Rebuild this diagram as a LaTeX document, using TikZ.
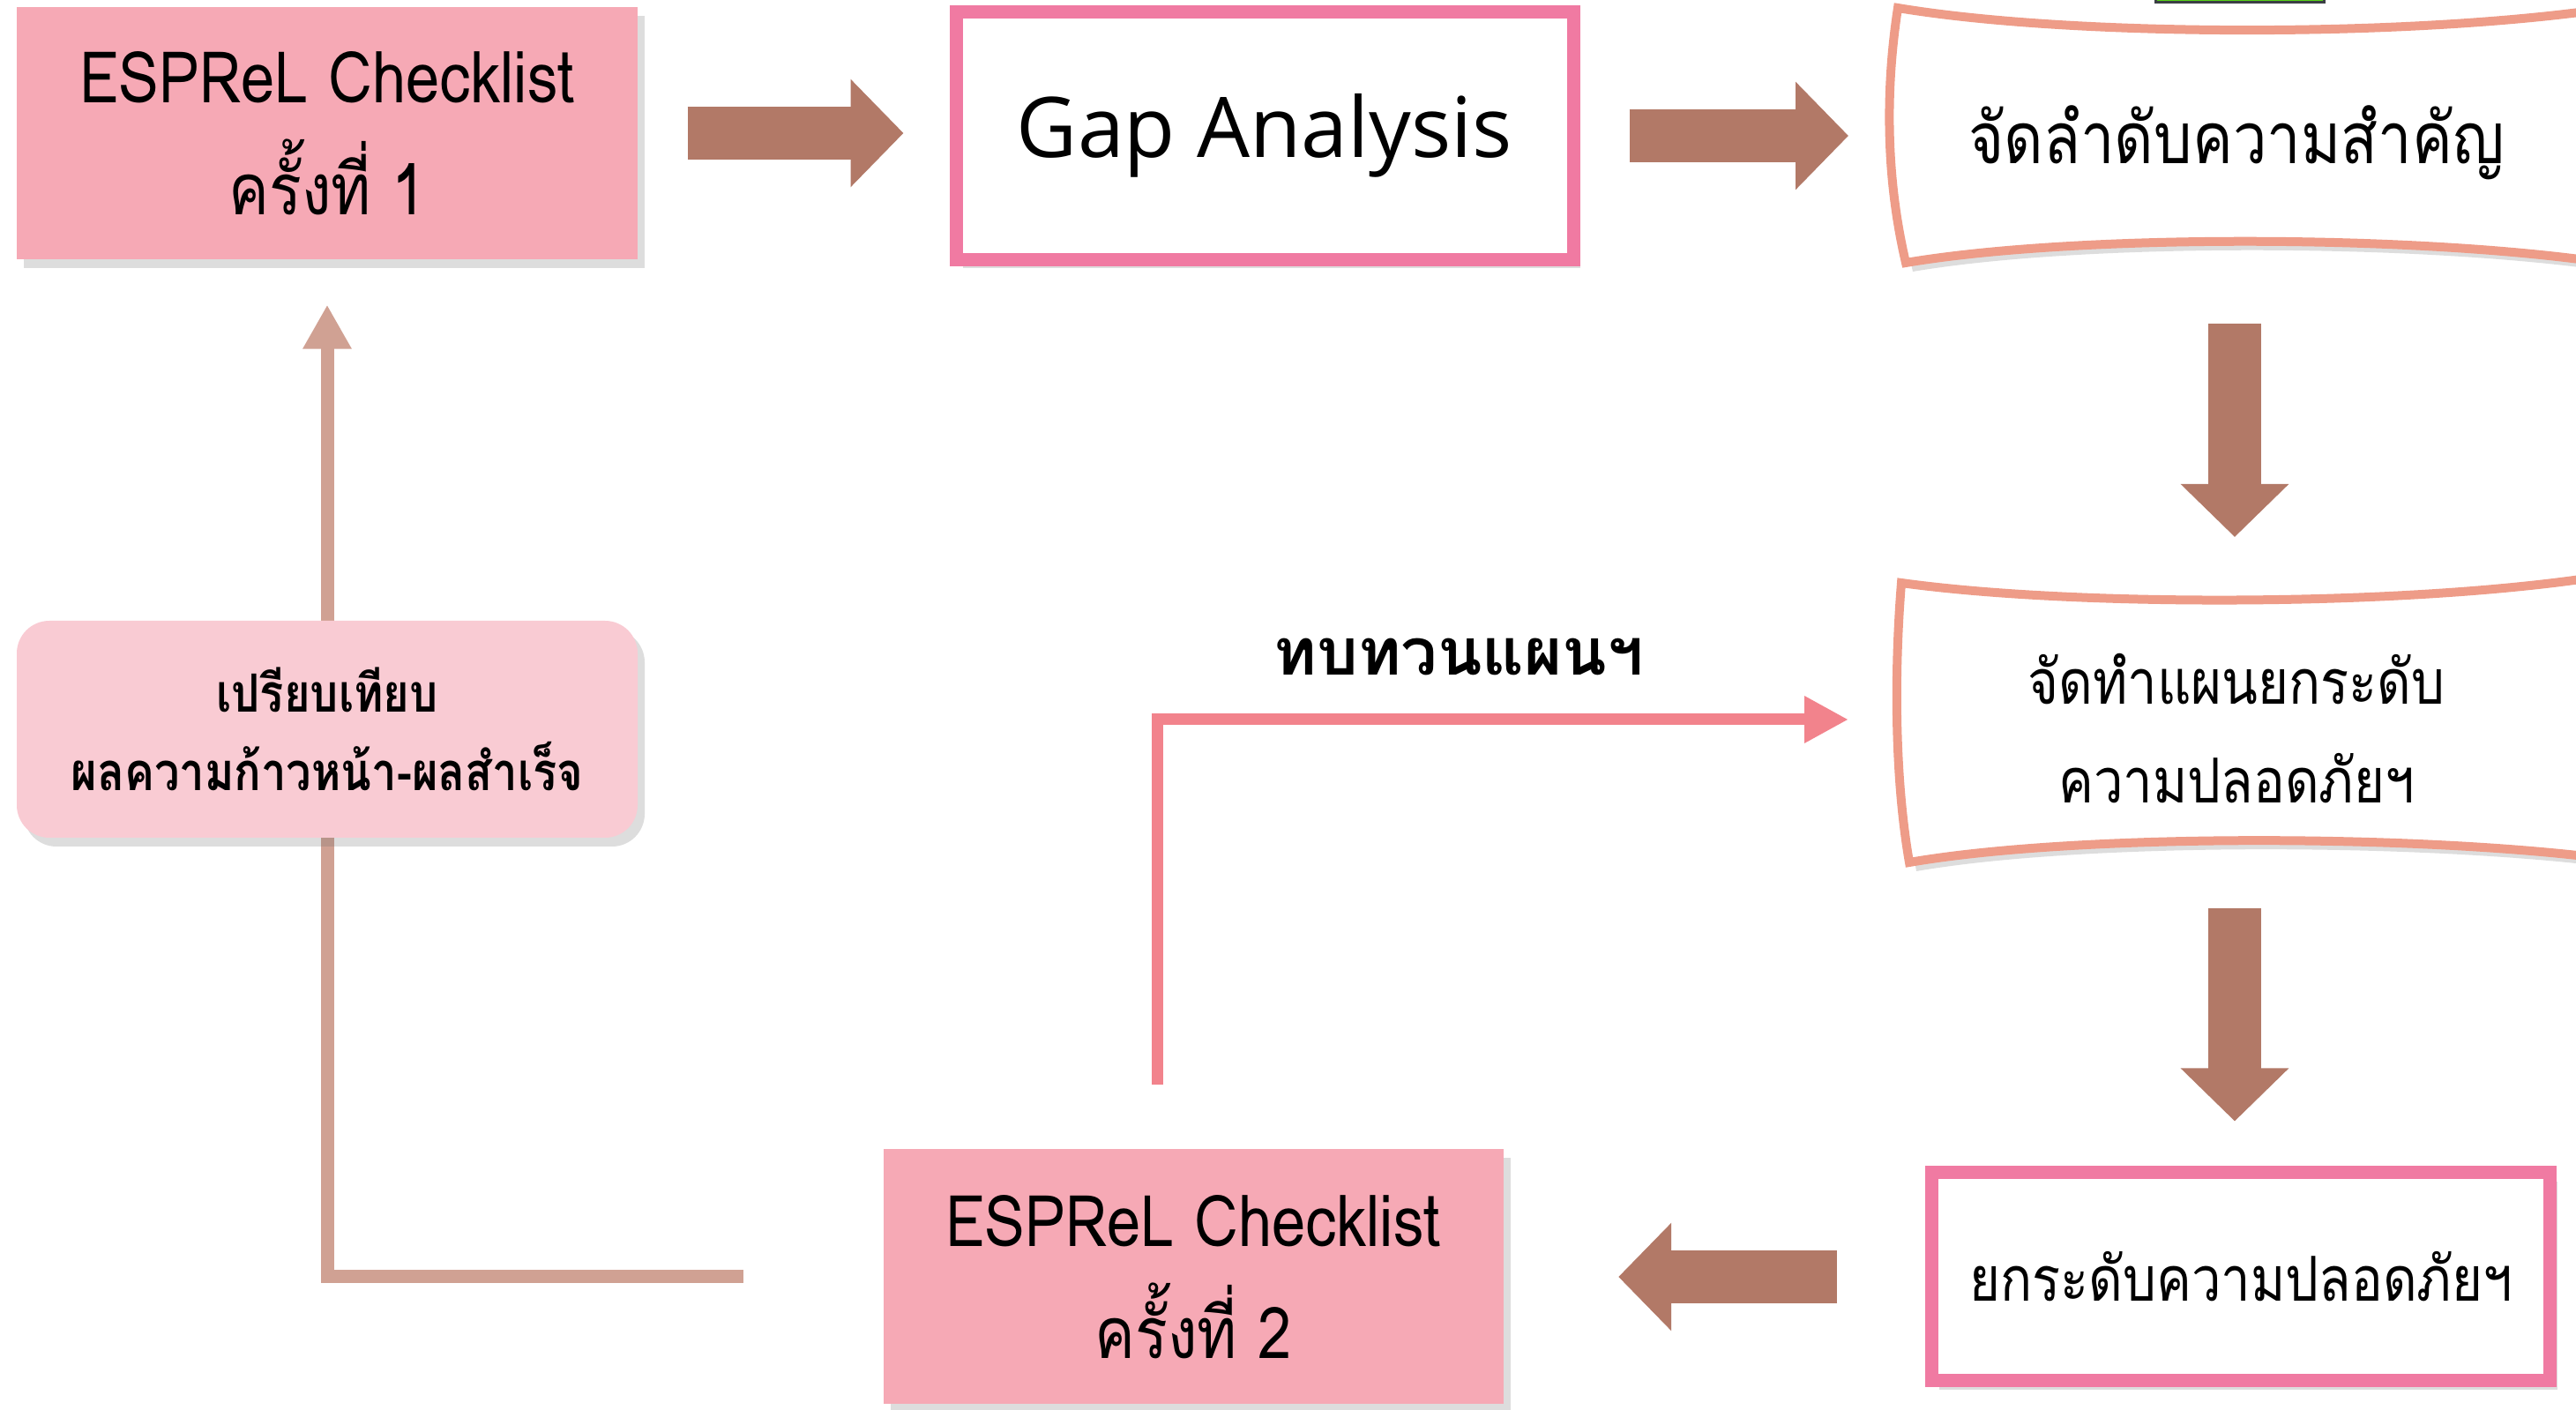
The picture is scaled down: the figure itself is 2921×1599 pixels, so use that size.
\documentclass[tikz,border=0pt]{standalone}
\usepackage{fontspec}
\setmainfont{Open Sans}
\newfontfamily\thaifont[Script=Thai,FakeStretch=0.85]{Loma}
\newfontfamily\thaiwide[Script=Thai]{Loma}
\usetikzlibrary{arrows.meta,shadows,positioning}

\definecolor{checkpink}{HTML}{F6A9B5}
\definecolor{framepink}{HTML}{F07AA2}
\definecolor{wavesalmon}{HTML}{EE9C88}
\definecolor{softpink}{HTML}{F9CBD3}
\definecolor{arrowbrown}{HTML}{B27967}
\definecolor{linetan}{HTML}{D0A193}
\definecolor{reviewpink}{HTML}{F2838C}

\begin{document}
\begin{tikzpicture}[x=0.1mm,y=-0.1mm,> = Triangle,
	boxshadow/.style={drop shadow={shadow xshift=.8mm,shadow yshift=-1mm,opacity=.22,fill=black!60}},
	checkbox/.style={fill=checkpink,boxshadow,align=center,minimum width=70.4mm,minimum height=28.6mm,
		font=\thaifont\fontsize{23}{36}\selectfont},
	framebox/.style={fill=white,draw=framepink,line width=1.5mm,boxshadow,align=center,
		minimum width=70mm,minimum height=28.1mm},
	wavebox/.style={fill=white,draw=wavesalmon,line width=1mm,boxshadow},
	wavetext/.style={align=center,font=\thaifont\fontsize{23}{32}\selectfont},
	blockarr/.style={arrowbrown,line width=6mm,-{Triangle[width=11.9mm,length=6mm]}},
	backline/.style={linetan,line width=1.5mm,-{Triangle[width=5.2mm,length=5mm]}},
	reviewarr/.style={reviewpink,line width=1.3mm,-{Triangle[width=5mm,length=5mm]}}]
	\useasboundingbox (0,0) rectangle (2921,1599);
	\clip (0,0) rectangle (2921,1599);
	\fill[white] (0,0) rectangle (2921,1599);
	\filldraw[fill=green!55!lime!80!black!90,draw=black!60!cyan!40!black,line width=.3mm] (2444,-10) rectangle (2635,3);
	%%%%%%%% first row
	\node[checkbox] (check1) at (371,151) {ESPReL Checklist\\ครั้งที่ 1};
	\node[framebox,font=\fontsize{27}{30}\selectfont] (gap) at (1434,154) {Gap Analysis};
	\draw[wavebox] (2152,9) .. controls (2350,42) and (2720,42) .. (2940,12) -- (2940,296)
		.. controls (2720,266) and (2350,266) .. (2161,298) .. controls (2138,200) and (2138,100) .. (2152,9) -- cycle;
	\node[wavetext] (rank) at (2536,162) {จัดลำดับความสำคัญ};
	\coordinate (rankwest) at (2145,154);
	\coordinate (ranksouth) at (2534,274);
	%%%%%%%% right column
	\draw[wavebox] (2156,661) .. controls (2350,688) and (2720,688) .. (2940,655) -- (2940,972)
		.. controls (2720,946) and (2350,946) .. (2165,978) .. controls (2148,880) and (2148,760) .. (2156,661) -- cycle;
	\node[wavetext,font=\thaifont\fontsize{20}{32}\selectfont] (plan) at (2536,826) {จัดทำแผนยกระดับ\\ความปลอดภัยฯ};
	\coordinate (plannorth) at (2534,680);
	\coordinate (plansouth) at (2534,954);
	\coordinate (planwest) at (2156,816);
	\node[framebox,minimum width=70.1mm,minimum height=23.6mm,font=\thaifont\fontsize{20}{30}\selectfont] (safe) at (2541,1448) {ยกระดับความปลอดภัยฯ};
	%%%%%%%% bottom row
	\node[checkbox,minimum width=70.3mm,minimum height=28.9mm] (check2) at (1353,1448) {ESPReL Checklist\\ครั้งที่ 2};
	\draw[backline] ([xshift=-15.8mm]check2.west) -| (check1.south) [shorten >=5.1mm];
	\node[checkbox,fill=softpink,rounded corners=3.7mm,minimum height=24.6mm,
		font=\thaifont\bfseries\fontsize{17}{25.5}\selectfont] (compare) at (371,827) {เปรียบเทียบ\\ผลความก้าวหน้า-ผลสำเร็จ};
	%%%%%%%% arrows
	\draw[blockarr,shorten <=5.6mm,shorten >=5.2mm] (check1.east) -- (check1.east -| gap.west);
	\draw[blockarr,shorten <=5.6mm,shorten >=4.9mm] (gap.east |- rankwest) -- (rankwest);
	\draw[blockarr,shorten <=9.3mm,shorten >=7.1mm] (ranksouth) -- (plannorth);
	\draw[blockarr,shorten <=7.6mm,shorten >=5.1mm] (plansouth) -- (safe.north -| plansouth);
	\draw[blockarr,shorten <=10mm,shorten >=13mm] (safe.west) -- (check2.east);
	\coordinate (revstart) at (1312,1230);
	\draw[reviewarr,shorten >=6mm] (revstart) |- (planwest);
	\node[font=\thaiwide\bfseries\fontsize{21}{26}\selectfont] (revlabel) at (1654,745) {ทบทวนแผนฯ};
\end{tikzpicture}
\end{document}
